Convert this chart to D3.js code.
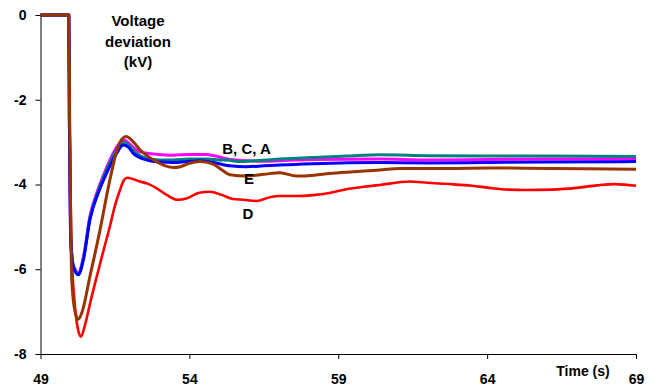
<!DOCTYPE html>
<html>
<head>
<meta charset="utf-8">
<script src="https://cdn.jsdelivr.net/npm/d3@7"></script>
<style>
  body { margin: 0; background: #fff; }
  text { font-family: Arial, "Liberation Sans", sans-serif; font-weight: bold; }
</style>
</head>
<body>
<div id="chart"></div>
<script>
// series: [time (s), voltage deviation (kV)]
var seriesD = [[49,0],[49.95,0],[49.98,-2.5],[50.05,-5.6],[50.16,-6.9],[50.27,-7.45],[50.36,-7.59],[50.5,-7.3],[50.7,-6.7],[50.89,-6.17],[51.1,-5.6],[51.33,-4.99],[51.5,-4.5],[51.67,-4.13],[51.8,-3.9],[51.91,-3.84],[52.1,-3.87],[52.34,-3.93],[52.6,-3.98],[52.9,-4.09],[53.25,-4.25],[53.6,-4.36],[53.9,-4.33],[54.3,-4.2],[54.69,-4.17],[55.1,-4.25],[55.46,-4.34],[55.8,-4.36],[56.26,-4.39],[56.7,-4.3],[57.04,-4.27],[57.6,-4.27],[58.15,-4.25],[58.7,-4.2],[59.28,-4.11],[59.8,-4.06],[60.39,-4.01],[61.4,-3.93],[62.0,-3.96],[62.74,-3.99],[63.5,-4.03],[64.08,-4.08],[64.7,-4.12],[65.3,-4.13],[66.2,-4.12],[67.0,-4.08],[67.7,-4.02],[68.3,-3.99],[69,-4.03]];

var seriesE = [[49,0],[49.95,0],[49.98,-2.5],[50.05,-6.25],[50.16,-7.0],[50.27,-7.18],[50.4,-7.0],[50.66,-6.17],[51.0,-5.07],[51.33,-3.89],[51.61,-3.1],[51.87,-2.87],[52.1,-2.98],[52.34,-3.18],[52.6,-3.33],[52.9,-3.46],[53.2,-3.56],[53.46,-3.6],[53.7,-3.58],[54.0,-3.5],[54.35,-3.46],[54.8,-3.52],[55.1,-3.66],[55.36,-3.77],[55.92,-3.8],[56.5,-3.76],[57.04,-3.72],[57.6,-3.8],[58.2,-3.78],[58.7,-3.74],[59.5,-3.7],[60.39,-3.66],[61.06,-3.62],[62.7,-3.62],[64,-3.61],[66.1,-3.62],[69,-3.64]];

var seriesC = [[49,0],[49.95,0],[49.97,-2.5],[50.01,-5.23],[50.1,-5.93],[50.27,-6.13],[50.44,-5.78],[50.66,-4.83],[50.94,-4.2],[51.22,-3.73],[51.56,-3.26],[51.78,-3.07],[51.95,-3.12],[52.11,-3.26],[52.56,-3.42],[53.0,-3.47],[53.45,-3.48],[53.9,-3.46],[54.35,-3.44],[54.8,-3.48],[55.36,-3.56],[55.92,-3.58],[56.5,-3.56],[57.04,-3.54],[58.15,-3.51],[60.39,-3.48],[62,-3.49],[64,-3.48],[66,-3.47],[69,-3.46]];

var seriesB = [[49,0],[49.95,0],[49.97,-2.5],[50.01,-5.2],[50.1,-5.9],[50.27,-6.08],[50.44,-5.72],[50.66,-4.75],[50.94,-4.1],[51.22,-3.6],[51.56,-3.12],[51.8,-2.95],[52.0,-3.05],[52.2,-3.18],[52.56,-3.26],[53.0,-3.29],[53.45,-3.31],[54.0,-3.29],[54.58,-3.29],[55.0,-3.35],[55.36,-3.41],[56.0,-3.44],[56.47,-3.45],[57.3,-3.43],[58.15,-3.41],[60.39,-3.4],[62,-3.42],[64,-3.41],[66,-3.4],[69,-3.4]];

var seriesA = [[49,0],[49.95,0],[49.97,-2.5],[50.01,-5.22],[50.1,-5.92],[50.27,-6.1],[50.44,-5.75],[50.66,-4.8],[50.94,-4.15],[51.22,-3.66],[51.56,-3.18],[51.8,-3.0],[52.0,-3.1],[52.2,-3.25],[52.56,-3.38],[53.0,-3.42],[53.45,-3.42],[54.0,-3.4],[54.58,-3.4],[55.0,-3.42],[55.36,-3.43],[55.7,-3.46],[56.2,-3.44],[57.04,-3.4],[58.15,-3.36],[59.3,-3.33],[60.39,-3.3],[62,-3.32],[64,-3.33],[66,-3.33],[69,-3.34]];

var xTicks = [49, 54, 59, 64, 69];
var yTicks = [0, -2, -4, -6, -8];

var svgWidth = 658;
var svgHeight = 387;

var margin = { top: 15, right: 22, bottom: 33, left: 40.5 };
var chartWidth = svgWidth - margin.left - margin.right;
var chartHeight = svgHeight - margin.top - margin.bottom;

var svg = d3.select("#chart")
  .append("svg")
  .attr("width", svgWidth)
  .attr("height", svgHeight);

var chartGroup = svg.append("g")
  .attr("transform", `translate(${margin.left}, ${margin.top})`);

var xLinearScale = d3.scaleLinear().domain([49, 69]).range([0, chartWidth]);
var yLinearScale = d3.scaleLinear().domain([-8, 0]).range([chartHeight, 0]);

var bottomAxis = d3.axisBottom(xLinearScale)
  .tickValues(xTicks).tickSize(5).tickSizeOuter(0).tickPadding(15)
  .tickFormat(d3.format("d"));
var leftAxis = d3.axisLeft(yLinearScale)
  .tickValues(yTicks).tickSize(5).tickSizeOuter(0).tickPadding(9)
  .tickFormat(d => d === 0 ? "0" : "-" + Math.abs(d));

var xAxis = chartGroup.append("g")
  .attr("transform", `translate(0, ${chartHeight})`)
  .call(bottomAxis);
var yAxis = chartGroup.append("g").call(leftAxis);

[xAxis, yAxis].forEach(function(ax) {
  ax.selectAll("text").style("font-size", "14px").attr("fill", "#000");
  ax.select(".domain").attr("stroke", "#000");
  ax.selectAll("line").attr("stroke", "#000");
});

var line = d3.line()
  .x(d => xLinearScale(d[0]))
  .y(d => yLinearScale(d[1]))
  .curve(d3.curveMonotoneX);

var lines = [
  { data: seriesD, color: "#ff0000", width: 2.6 },
  { data: seriesB, color: "#ff00ff", width: 3 },
  { data: seriesA, color: "#008080", width: 3 },
  { data: seriesC, color: "#0000ff", width: 3 },
  { data: seriesE, color: "#993300", width: 3 }
];

chartGroup.selectAll(".series")
  .data(lines)
  .enter()
  .append("path")
  .attr("class", "series")
  .attr("fill", "none")
  .attr("stroke", d => d.color)
  .attr("stroke-width", d => d.width)
  .attr("stroke-linejoin", "round")
  .attr("d", d => line(d.data));

// curve labels
var curveLabels = [
  { text: "B, C, A", t: 55.92, v: -3.28 },
  { text: "E", t: 56.0, v: -3.99 },
  { text: "D", t: 55.97, v: -4.81 }
];
chartGroup.selectAll(".clabel")
  .data(curveLabels)
  .enter()
  .append("text")
  .attr("class", "clabel")
  .attr("x", d => xLinearScale(d.t))
  .attr("y", d => yLinearScale(d.v))
  .attr("text-anchor", "middle")
  .style("font-size", "15px")
  .text(d => d.text);

// axis titles
var yTitle = svg.append("text")
  .attr("x", 138)
  .attr("text-anchor", "middle")
  .style("font-size", "15px");
["Voltage", "deviation", "(kV)"].forEach(function(s, i) {
  yTitle.append("tspan").attr("x", 138).attr("y", 26 + i * 20.5).text(s);
});

svg.append("text")
  .attr("x", 583)
  .attr("y", 376)
  .attr("text-anchor", "middle")
  .style("font-size", "14px")
  .text("Time (s)");
</script>
</body>
</html>
